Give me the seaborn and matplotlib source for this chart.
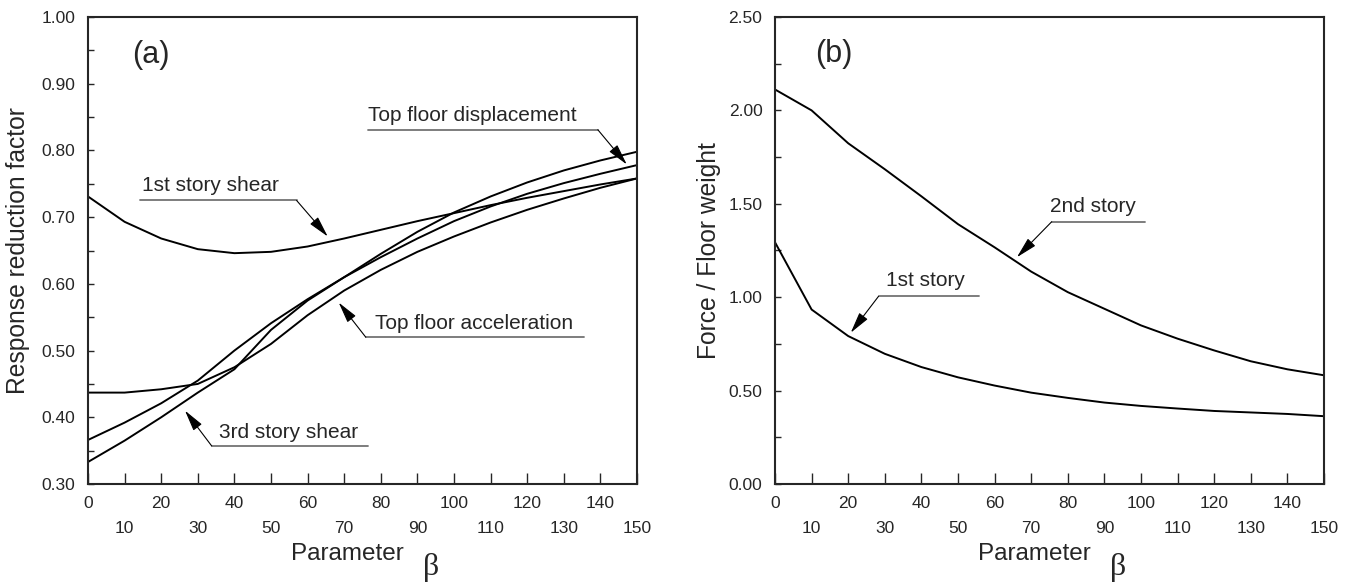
import numpy as np
import pandas as pd
import matplotlib
matplotlib.use("Agg")
import matplotlib.pyplot as plt
from matplotlib.ticker import FormatStrFormatter
import seaborn as sns

# ---- data -------------------------------------------------------------
beta = [0, 10, 20, 30, 40, 50, 60, 70, 80, 90, 100, 110, 120, 130, 140, 150]

# (a) response reduction factors
shear_1st = [0.731, 0.693, 0.668, 0.652, 0.646, 0.648, 0.656, 0.668,
             0.681, 0.694, 0.706, 0.718, 0.729, 0.739, 0.749, 0.758]
accel_top = [0.437, 0.437, 0.442, 0.450, 0.475, 0.510, 0.553, 0.590,
             0.621, 0.648, 0.671, 0.692, 0.711, 0.728, 0.744, 0.758]
disp_top = [0.366, 0.392, 0.421, 0.455, 0.500, 0.541, 0.577, 0.610,
            0.640, 0.668, 0.694, 0.716, 0.735, 0.751, 0.765, 0.778]
shear_3rd = [0.333, 0.365, 0.400, 0.437, 0.472, 0.531, 0.575, 0.610,
             0.645, 0.678, 0.707, 0.731, 0.752, 0.770, 0.785, 0.798]

# (b) story force normalised by floor weight
force_1st = [1.294, 0.934, 0.792, 0.697, 0.626, 0.571, 0.527, 0.489,
             0.461, 0.436, 0.418, 0.404, 0.391, 0.383, 0.375, 0.363]
force_2nd = [2.112, 2.000, 1.824, 1.685, 1.540, 1.391, 1.267, 1.137,
             1.027, 0.938, 0.849, 0.778, 0.715, 0.657, 0.614, 0.582]

xticks_upper = [0, 20, 40, 60, 80, 100, 120, 140]
xticks_lower = [10, 30, 50, 70, 90, 110, 130, 150]

# ---- style ------------------------------------------------------------
sns.set_style("ticks")
plt.rcParams["font.family"] = ["Liberation Sans", "DejaVu Sans"]
plt.rcParams["axes.linewidth"] = 1.5

fig = plt.figure(figsize=(13.59, 5.82), dpi=100)
ax_a = fig.add_axes([88 / 1359, 98 / 582, 549 / 1359, 467 / 582])
ax_b = fig.add_axes([775 / 1359, 98 / 582, 549 / 1359, 467 / 582])

panel_a = pd.DataFrame({"beta": beta, "1st story shear": shear_1st,
                        "Top floor acceleration": accel_top,
                        "Top floor displacement": disp_top,
                        "3rd story shear": shear_3rd})
panel_b = pd.DataFrame({"beta": beta, "1st story": force_1st,
                        "2nd story": force_2nd})

for col in panel_a.columns[1:]:
    sns.lineplot(data=panel_a, x="beta", y=col, ax=ax_a, color="black",
                 linewidth=1.4)
for col in panel_b.columns[1:]:
    sns.lineplot(data=panel_b, x="beta", y=col, ax=ax_b, color="black",
                 linewidth=1.4)


def style_axes(ax, ylim, major, minor, ylabel, ylabel_x):
    ax.set_xlim(0, 150)
    ax.set_ylim(*ylim)
    ax.set_xticks(xticks_upper, labels=[str(v) for v in xticks_upper])
    ax.set_xticks(xticks_lower, labels=[str(v) for v in xticks_lower],
                  minor=True)
    ax.set_yticks(major)
    ax.set_yticks(minor, minor=True)
    ax.yaxis.set_major_formatter(FormatStrFormatter("%.2f"))
    ax.tick_params(axis="x", which="both", direction="in", length=8,
                   width=1.0, top=False, labelsize=12.5)
    ax.tick_params(axis="x", which="major", pad=8.5)
    ax.tick_params(axis="x", which="minor", pad=26.5)
    ax.tick_params(axis="y", which="both", direction="in", length=4,
                   width=1.0, right=False, labelsize=12.5, pad=9)
    for sp in ax.spines.values():
        sp.set_linewidth(1.5)
        sp.set_visible(True)
    ax.set_ylabel(ylabel, fontsize=17.7)
    ax.yaxis.label.set_va("center")
    ax.yaxis.set_label_coords(ylabel_x, 0.5)
    ax.set_xlabel("Parameter", fontsize=17.5)
    ax.xaxis.label.set_va("center")
    ax.xaxis.set_label_coords(0.472, -0.150)
    ax.text(0.625, -0.178, "β", transform=ax.transAxes, fontsize=23,
            family=["Liberation Serif", "DejaVu Serif"],
            ha="center", va="center")


style_axes(ax_a, (0.30, 1.00), np.arange(0.30, 1.001, 0.10),
           np.arange(0.35, 1.0, 0.10), "Response reduction factor", -0.1275)
style_axes(ax_b, (0.0, 2.50), np.arange(0.0, 2.501, 0.50),
           np.arange(0.25, 2.5, 0.50), "Force / Floor weight", -0.12)


def leader(ax, text, text_xy, x0, x1, y, start_x, tip):
    """Label with a grey underline and a leader arrow pointing at a curve."""
    ax.text(*text_xy, text, fontsize=15, ha="center", va="center")
    ax.plot([x0, x1], [y, y], color="0.45", linewidth=1.3)
    ax.annotate("", xy=tip, xytext=(start_x, y),
                arrowprops=dict(arrowstyle="-|>,head_length=1.3,head_width=0.32",
                                color="black", linewidth=0.8,
                                shrinkA=0, shrinkB=0, mutation_scale=10))


leader(ax_a, "1st story shear", (33.4, 0.748), 14.3, 57.0, 0.725, 57.0, (65.5, 0.671))
leader(ax_a, "Top floor displacement", (105.0, 0.852), 76.5, 139.3, 0.831, 139.3, (147.2, 0.779))
leader(ax_a, "Top floor acceleration", (105.4, 0.541), 75.9, 135.6, 0.520, 75.9, (68.5, 0.572))
leader(ax_a, "3rd story shear", (54.8, 0.377), 33.8, 76.5, 0.357, 33.8, (26.5, 0.410))
leader(ax_b, "2nd story", (87.0, 1.485), 75.6, 101.0, 1.404, 75.6, (66.1, 1.214))
leader(ax_b, "1st story", (41.0, 1.088), 28.3, 55.7, 1.005, 28.3, (20.7, 0.810))

ax_a.text(17.3, 0.943, "(a)", fontsize=22, ha="center", va="center")
ax_b.text(16.2, 2.30, "(b)", fontsize=22, ha="center", va="center")

fig.savefig("out.png", dpi=100)
